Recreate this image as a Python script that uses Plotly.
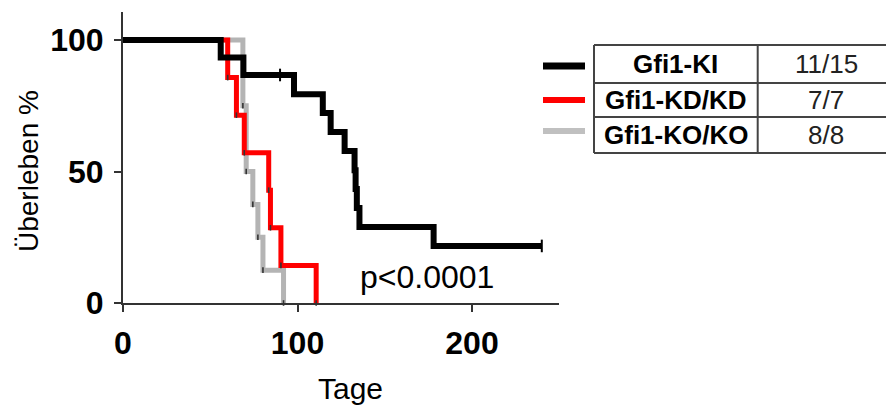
import plotly.graph_objects as go

# ---- data ----
ki_days = [0, 56, 69, 98, 114.5, 119, 127, 132.7, 133.3, 134, 135.5, 178, 240]
ki_surv = [100, 93.3, 86.7, 79.4, 72.2, 65.0, 57.8, 50.5, 43.3, 36.1, 28.9, 21.7, 21.7]
ki_censor_days = [90, 240]
ki_censor_surv = [86.7, 21.7]

kd_days = [0, 60, 65, 69.5, 83.5, 84.5, 90.5, 110.7]
kd_surv = [100, 85.7, 71.4, 57.1, 42.9, 28.6, 14.3, 0]

ko_days = [0, 68.7, 70.6, 74.4, 77.3, 80.2, 92]
ko_surv = [100, 75, 50, 37.5, 25, 12.5, 0]

series_names = ["Gfi1-KI", "Gfi1-KD/KD", "Gfi1-KO/KO"]
series_counts = ["11/15", "7/7", "8/8"]
series_colors = ["#000000", "#ff0000", "#b4b4b4"]

x_ticks = [0, 100, 200]
y_ticks = [0, 50, 100]
p_text = "p<0.0001"

# ---- layout geometry ----
W, H = 886, 408
L, R, T, B = 123, 327, 12, 105
PW, PH = W - L - R, H - T - B
FONT = "Liberation Sans, Arial, sans-serif"


def px(x):
    return (x - L) / PW


def py(y):
    return 1 - (y - T) / PH


fig = go.Figure()

# draw order: grey, red, black (black on top)
for days, surv, color, width in [
    (ko_days, ko_surv, series_colors[2], 5),
    (kd_days, kd_surv, series_colors[1], 5),
    (ki_days, ki_surv, series_colors[0], 6),
]:
    fig.add_trace(go.Scatter(x=days, y=surv, mode="lines",
                             line=dict(color=color, width=width, shape="hv"),
                             showlegend=False, hoverinfo="skip"))

# small event markers on red and grey curves
for days, surv in [(ko_days, ko_surv), (kd_days, kd_surv)]:
    fig.add_trace(go.Scatter(x=days[1:], y=surv[1:], mode="markers",
                             marker=dict(symbol="line-ns", size=4,
                                         line=dict(width=1.6, color="#333333")),
                             showlegend=False, hoverinfo="skip", cliponaxis=False))

# censor ticks on black curve
fig.add_trace(go.Scatter(x=ki_censor_days, y=ki_censor_surv, mode="markers",
                         marker=dict(symbol="line-ns", size=9,
                                     line=dict(width=2, color="#000000")),
                         showlegend=False, hoverinfo="skip", cliponaxis=False))

axis_common = dict(showline=True, linewidth=2, linecolor="#333333",
                   ticks="outside", ticklen=7, tickwidth=2, tickcolor="#333333",
                   showgrid=False, zeroline=False,
                   tickfont=dict(family=FONT, size=32, color="#000000", weight="bold"))

fig.update_xaxes(range=[0, PW / 1.745], tickvals=x_ticks, ticklabelstandoff=4,
                 **axis_common)
fig.update_yaxes(range=[0, PH / 2.63], tickvals=y_ticks, ticklabelstandoff=4,
                 **axis_common)

shapes = []
# legend table
tab_x0, tab_xm, tab_x1 = 594, 757.7, 900
row_y = [45, 83, 117, 153]
for y in row_y:
    shapes.append(dict(type="line", xref="paper", yref="paper",
                       x0=px(tab_x0), x1=px(tab_x1), y0=py(y), y1=py(y),
                       line=dict(color="#444444", width=2)))
for x in [tab_x0, tab_xm]:
    shapes.append(dict(type="line", xref="paper", yref="paper",
                       x0=px(x), x1=px(x), y0=py(row_y[0]), y1=py(row_y[-1]),
                       line=dict(color="#444444", width=2)))
legend_line_y = [66, 100, 131]
legend_line_w = [7, 6, 6]
legend_colors = ["#000000", "#ff0000", "#c0c0c0"]
for y, c, w in zip(legend_line_y, legend_colors, legend_line_w):
    shapes.append(dict(type="line", xref="paper", yref="paper",
                       x0=px(543), x1=px(585), y0=py(y), y1=py(y),
                       line=dict(color=c, width=w)))

annotations = []
for i, (name, cnt) in enumerate(zip(series_names, series_counts)):
    yc = (row_y[i] + row_y[i + 1]) / 2
    annotations.append(dict(xref="paper", yref="paper", x=px((tab_x0 + tab_xm) / 2),
                            y=py(yc), text=name, showarrow=False,
                            xanchor="center", yanchor="middle",
                            font=dict(family=FONT, size=26, color="#000000", weight="bold")))
    annotations.append(dict(xref="paper", yref="paper", x=px(826),
                            y=py(yc), text=cnt, showarrow=False,
                            xanchor="center", yanchor="middle",
                            font=dict(family=FONT, size=26, color="#222222")))

annotations.append(dict(xref="paper", yref="paper", x=px(426.5), y=py(277),
                        text=p_text, showarrow=False, xanchor="center", yanchor="middle",
                        font=dict(family=FONT, size=32, color="#000000")))
annotations.append(dict(xref="paper", yref="paper", x=px(350), y=py(388),
                        text="Tage", showarrow=False, xanchor="center", yanchor="middle",
                        font=dict(family=FONT, size=30, color="#000000")))
annotations.append(dict(xref="paper", yref="paper", x=px(29), y=py(171),
                        text="Überleben %", showarrow=False, textangle=-90,
                        xanchor="center", yanchor="middle",
                        font=dict(family=FONT, size=28, color="#000000")))

fig.update_layout(width=W, height=H, margin=dict(l=L, r=R, t=T, b=B),
                  paper_bgcolor="white", plot_bgcolor="white",
                  shapes=shapes, annotations=annotations, showlegend=False)

fig.write_html("out.html")
